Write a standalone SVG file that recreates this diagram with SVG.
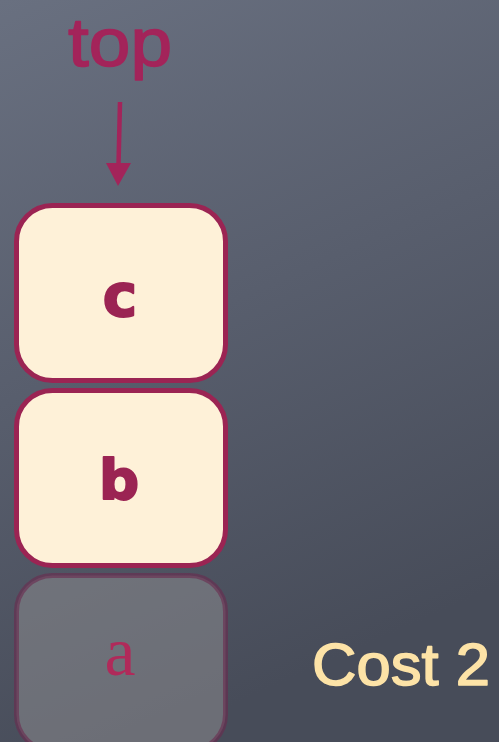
<svg xmlns="http://www.w3.org/2000/svg" width="499" height="742" viewBox="0 0 499 742">
<defs>
<linearGradient id="bg" x1="0" y1="0" x2="0.3" y2="1">
<stop offset="0" stop-color="#697080"/>
<stop offset="0.5" stop-color="#585e6d"/>
<stop offset="1" stop-color="#474c59"/>
</linearGradient>
<style>
.box{fill:#fef1d8;stroke:#9b2453;stroke-width:5}
.ghost{fill:#8a8a8e;fill-opacity:0.55;stroke:#6a2a4e;stroke-opacity:0.6;stroke-width:5}
.lbl{font-family:"DejaVu Sans",sans-serif;font-weight:bold;fill:#9b2453;stroke:#9b2453;stroke-width:2;stroke-linejoin:round;text-anchor:middle}
.hand{font-family:"Liberation Sans",sans-serif;stroke-width:1.5;stroke-linejoin:round}
</style>
</defs>
<rect width="499" height="742" fill="url(#bg)"/>
<text class="hand" x="120" y="66" font-size="68" fill="#a3245a" stroke="#a3245a" text-anchor="middle" textLength="104" lengthAdjust="spacingAndGlyphs">top</text>
<g id="connectors">
<line x1="120" y1="102" x2="118.5" y2="165" stroke="#a3245a" stroke-width="4.5"/>
<path d="M106,163 L131,163 L118,186 Z" fill="#a3245a"/>
</g>
<g id="node-c">
<rect class="box" x="16.5" y="205.5" width="209" height="175" rx="36"/>
<text class="lbl" x="120" y="316" font-size="58">c</text>
</g>
<g id="node-b">
<rect class="box" x="16.5" y="390.5" width="209" height="175" rx="36"/>
<text class="lbl" x="119" y="499" font-size="56">b</text>
</g>
<g id="node-a">
<rect class="ghost" x="16.5" y="575.5" width="209" height="175" rx="36"/>
<text x="120" y="675" font-family="Liberation Serif, serif" font-size="70" fill="#b02a5a" text-anchor="middle">a</text>
</g>
<text class="hand" x="312" y="685" font-size="60" fill="#fde3a7" stroke="#fde3a7" textLength="178" lengthAdjust="spacingAndGlyphs">Cost 2</text>
</svg>
